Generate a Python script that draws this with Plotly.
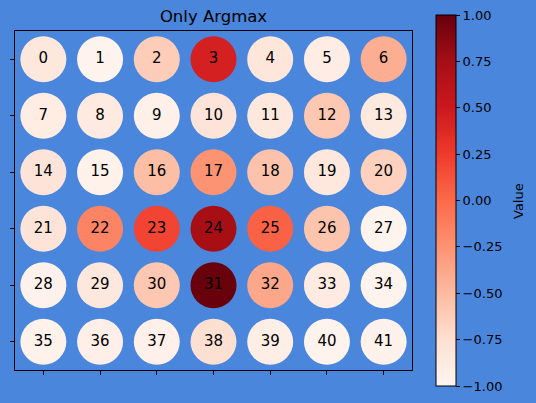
import plotly.graph_objects as go

n_rows = 6
n_cols = 7
labels = [str(i) for i in range(42)]
values = [
    -0.84, -0.98, -0.62, 0.44, -0.82, -0.91, -0.42,
    -0.90, -0.87, -0.94, -0.80, -0.83, -0.58, -0.86,
    -0.80, -0.96, -0.52, -0.26, -0.55, -0.85, -0.65,
    -0.80, -0.16, 0.20, 0.74, 0.04, -0.56, -0.98,
    -0.97, -0.84, -0.58, 0.99, -0.38, -0.88, -0.98,
    -0.96, -0.93, -0.94, -0.75, -0.92, -0.98, -0.97,
]
cbar_ticks = [-1.0, -0.75, -0.5, -0.25, 0.0, 0.25, 0.5, 0.75, 1.0]
cbar_ticktext = ["\u22121.00", "\u22120.75", "\u22120.50", "\u22120.25", "0.00", "0.25", "0.50", "0.75", "1.00"]

reds = [
    [0.0, "#fff5f0"], [0.125, "#fee0d2"], [0.25, "#fcbba1"], [0.375, "#fc9272"],
    [0.5, "#fb6a4a"], [0.625, "#ef3b2c"], [0.75, "#cb181d"], [0.875, "#a50f15"],
    [1.0, "#67000d"],
]

xs = [i % n_cols for i in range(len(values))]
ys = [i // n_cols for i in range(len(values))]

bg = "#4a86db"
font = "DejaVu Sans"

fig = go.Figure(go.Scatter(
    x=xs, y=ys, mode="markers+text", text=labels,
    textposition="middle center",
    textfont=dict(family=font, size=15, color="black"),
    marker=dict(size=46, color=values, colorscale=reds, cmin=-1, cmax=1,
                line=dict(width=0),
                colorbar=dict(
                    thickness=20, len=371, lenmode="pixels",
                    x=(436 - 15) / 397, xanchor="left", xpad=0,
                    y=(370 - 200.5) / 339, yanchor="middle", ypad=0,
                    outlinewidth=1, outlinecolor="black",
                    tickvals=cbar_ticks, ticktext=cbar_ticktext,
                    ticks="outside", ticklen=4, tickwidth=1, tickcolor="black",
                    tickfont=dict(family=font, size=13, color="black"),
                )),
    showlegend=False, hoverinfo="skip",
))

fig.add_annotation(text="Value", textangle=-90, xref="paper", yref="paper",
                   x=(518 - 15) / 397, y=(370 - 201) / 339, showarrow=False,
                   xanchor="center", yanchor="middle",
                   font=dict(family=font, size=13, color="black"))

axis_common = dict(showgrid=False, zeroline=False, showticklabels=False,
                   ticks="outside", ticklen=4, tickwidth=1, tickcolor="black",
                   showline=True, linecolor="black", linewidth=1, mirror=True,
                   dtick=1, tick0=0)

fig.update_layout(
    width=536, height=403,
    paper_bgcolor=bg, plot_bgcolor=bg,
    margin=dict(l=15, r=124, t=31, b=33, autoexpand=False),
    title=dict(text="Only Argmax", x=(213.5) / 536, xanchor="center",
               y=1 - 16 / 403, yanchor="middle", yref="container",
               font=dict(family=font, size=16.5, color="black")),
    xaxis=dict(range=[-0.5, 6.5], **axis_common),
    yaxis=dict(range=[5.5, -0.5], **axis_common),
)

fig.write_html("out.html", config={"displayModeBar": False},
               post_script="document.body.style.margin='0';document.body.style.overflow='hidden';")
